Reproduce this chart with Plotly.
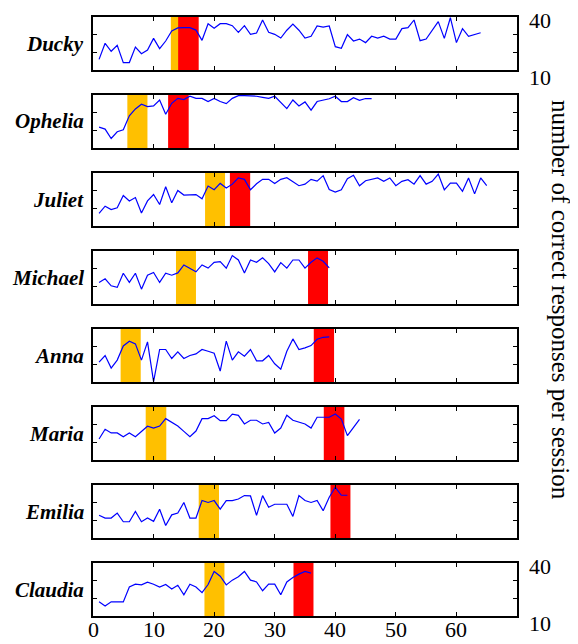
import plotly.graph_objects as go

names = ["Ducky", "Ophelia", "Juliet", "Michael", "Anna", "Maria", "Emilia", "Claudia"]

ducky = [16.0, 25.1, 20.6, 24.0, 14.2, 14.2, 23.0, 19.2, 21.3, 27.9, 22.1, 26.4, 32.1, 33.8, 34.0,
         34.0, 32.6, 26.8, 36.2, 33.6, 36.2, 36.2, 35.1, 31.3, 35.1, 30.2, 30.9, 38.3, 31.3, 30.2,
         28.1, 32.5, 36.0, 32.5, 28.1, 29.1, 34.9, 34.3, 34.9, 23.2, 22.3, 30.0, 26.4, 27.5, 25.5,
         29.1, 28.1, 29.1, 27.5, 27.5, 33.4, 34.0, 38.3, 26.6, 27.5, 32.5, 37.4, 27.9, 39.6, 25.5,
         33.4, 29.1, 30.1, 31.1]
ophelia = [21.8, 20.7, 15.4, 19.2, 20.3, 28.2, 32.1, 34.8, 33.4, 33.8, 37.2, 29.1, 35.3, 38.1, 37.4,
           39.3, 38.1, 38.1, 36.3, 38.1, 36.3, 35.1, 38.1, 39.6, 39.6, 39.6, 39.3, 38.7, 38.1, 39.3,
           35.9, 32.3, 37.2, 33.8, 36.1, 31.4, 36.3, 37.0, 37.9, 39.3, 36.3, 36.3, 38.5, 37.0, 38.0,
           38.0]
juliet = [17.2, 21.2, 19.3, 20.3, 27.3, 24.2, 26.1, 17.4, 24.2, 27.8, 22.2, 32.2, 23.1, 30.1, 27.5,
          27.8, 27.8, 25.4, 32.6, 30.5, 34.1, 31.5, 33.7, 37.2, 36.4, 30.5, 33.9, 36.4, 36.4, 34.1,
          36.4, 37.3, 34.9, 32.8, 33.7, 36.4, 35.4, 38.5, 30.7, 29.2, 30.5, 36.8, 38.7, 32.8, 35.6,
          36.4, 37.2, 35.3, 37.2, 32.8, 35.3, 36.2, 33.7, 38.5, 33.7, 35.3, 39.4, 30.5, 34.3, 34.3,
          29.6, 37.2, 28.2, 37.2, 32.8]
michael = [22.2, 24.3, 20.3, 19.4, 27.4, 22.2, 27.4, 18.4, 26.3, 27.8, 22.2, 27.4, 26.3, 27.6, 32.1,
           30.1, 28.2, 32.1, 30.3, 33.6, 34.0, 30.3, 37.4, 34.9, 27.6, 34.9, 33.6, 36.1, 32.9, 28.2,
           33.4, 30.3, 34.9, 34.9, 30.3, 33.6, 36.1, 34.2, 30.4]
anna = [21.3, 25.0, 17.9, 22.4, 30.4, 33.1, 31.6, 22.4, 32.7, 10.2, 28.4, 28.4, 23.3, 27.1, 23.3,
        25.0, 25.9, 28.4, 27.4, 26.3, 16.2, 33.1, 22.4, 27.1, 24.6, 28.4, 22.0, 22.0, 25.0, 20.3,
        17.3, 27.4, 34.4, 28.4, 29.3, 30.6, 34.2, 35.3, 35.5]
maria = [21.9, 27.4, 25.3, 25.3, 23.2, 25.3, 23.2, 26.3, 29.1, 28.1, 29.2, 33.4, 31.3, 29.2, 26.2,
         23.2, 26.4, 33.4, 33.4, 35.1, 32.3, 32.3, 36.0, 35.3, 30.4, 32.5, 32.5, 30.4, 31.3, 25.3,
         28.1, 35.3, 32.5, 31.3, 30.4, 28.1, 34.2, 34.2, 34.2, 36.0, 33.2, 23.8, 28.5, 33.0]
emilia = [22.9, 21.3, 21.3, 24.1, 19.2, 19.2, 25.0, 19.2, 21.3, 19.4, 26.3, 17.1, 23.1, 24.1, 30.1,
          21.3, 21.3, 31.2, 30.1, 31.2, 26.3, 31.2, 31.2, 32.1, 34.0, 33.8, 22.8, 34.0, 27.4, 29.1,
          29.1, 29.1, 22.2, 34.0, 31.2, 30.1, 31.2, 25.4, 33.1, 38.7, 34.2, 34.2]
claudia = [18.0, 15.7, 18.0, 18.0, 18.0, 26.4, 28.0, 27.6, 29.1, 28.0, 26.4, 27.8, 25.3, 27.4, 22.0,
           28.0, 26.4, 23.2, 27.8, 35.2, 32.5, 27.6, 30.3, 32.2, 35.2, 30.3, 29.3, 24.3, 28.0, 28.0,
           22.0, 29.3, 31.8, 33.7, 35.2, 34.3]

series = [ducky, ophelia, juliet, michael, anna, maria, emilia, claudia]

# session ranges of the highlighted phases
orange_bands = [[12.85, 16.15], [5.67, 8.99], [18.5, 21.8], [13.7, 17.0],
                [4.56, 7.88], [8.7, 12.1], [17.45, 20.8], [18.4, 21.7]]
red_bands = [[14.06, 17.45], [12.4, 15.8], [22.6, 25.95], [35.5, 38.8],
             [36.45, 39.8], [38.1, 41.5], [39.2, 42.5], [33.1, 36.4]]

x_ticks = [0, 10, 20, 30, 40, 50, 60]
x_ticktext = ["0", "10", "20", "30", "40", "50", "60"]
y_ticks = [10, 20, 30, 40]
y_labelled = {10: "10", 40: "40"}

W, H = 578, 644
OFF = 8  # page body margin
ML, MR, MT = 93 - OFF, 69, 17 - OFF
MB = H - (616 - OFF)
ph = H - MT - MB
pw = W - ML - MR
step, height = 78, 53

FONT = "Liberation Serif"
fig = go.Figure()
n = len(names)
for k in range(n):
    ax = "" if k == 0 else str(k + 1)
    xa, ya = "x" + ax, "y" + ax
    top = 1 - (step * k) / ph
    bot = 1 - (step * k + height) / ph
    vals = series[k]
    fig.add_trace(go.Scatter(x=list(range(1, len(vals) + 1)), y=vals, mode="lines",
                             line=dict(color="#0000ff", width=1.2), xaxis=xa, yaxis=ya,
                             showlegend=False, hoverinfo="skip"))
    for bands, col in ((orange_bands, "#ffc000"), (red_bands, "#ff0000")):
        b = bands[k]
        fig.add_shape(type="rect", xref=xa, yref=ya + " domain", x0=b[0], x1=b[1], y0=0, y1=1,
                      fillcolor=col, line=dict(width=0), layer="below")
    last = k == n - 1
    fig.layout["xaxis" + ax] = dict(
        domain=[0, 1], range=[0, 70], anchor=ya, tickvals=x_ticks, automargin=False,
        showticklabels=False, ticks="inside", ticklen=4, tickcolor="black", tickwidth=1,
        showline=True, linecolor="black", linewidth=1.6, mirror="ticks",
        showgrid=False, zeroline=False)
    fig.layout["yaxis" + ax] = dict(
        domain=[bot, top], range=[10, 40], anchor=xa, side="right", automargin=False,
        tickvals=y_ticks, showticklabels=False,
        ticks="inside", ticklen=4, tickcolor="black", tickwidth=1,
        showline=True, linecolor="black", linewidth=1.6, mirror="ticks",
        showgrid=False, zeroline=False)
    fig.add_annotation(text="<b><i>%s</i></b>" % names[k], xref="paper", yref="paper",
                       x=(86 - OFF - ML) / pw, y=(top + bot) / 2, xanchor="right",
                       yanchor="middle", showarrow=False,
                       font=dict(family=FONT, size=21, color="black"))
    # right-hand tick labels on the first and last panel
    if k == 0 or last:
        for v, txt in y_labelled.items():
            shift = 3 if v == 40 else 7
            fig.add_annotation(text=txt, xref="paper", yref=ya, x=(527 - OFF - ML) / pw, y=v,
                               yshift=-shift, xanchor="left", yanchor="middle", showarrow=False,
                               font=dict(family=FONT, size=22, color="black"))
    if last:
        for v, txt in zip(x_ticks, x_ticktext):
            fig.add_annotation(text=txt, xref=xa, yref="paper", x=v,
                               y=-(629 - OFF - (H - MB)) / ph, xanchor="center",
                               yanchor="middle", showarrow=False,
                               font=dict(family=FONT, size=22, color="black"))

fig.add_annotation(text="number of correct responses per session", xref="paper", yref="paper",
                   x=(561 - OFF - ML) / pw, y=1 - (300 - OFF - MT) / ph, textangle=90,
                   xanchor="center", yanchor="middle", showarrow=False,
                   font=dict(family=FONT, size=25, color="black"))

fig.update_layout(width=W, height=H, margin=dict(l=ML, r=MR, t=MT, b=MB),
                  plot_bgcolor="white", paper_bgcolor="white")
fig.write_html("out.html")
